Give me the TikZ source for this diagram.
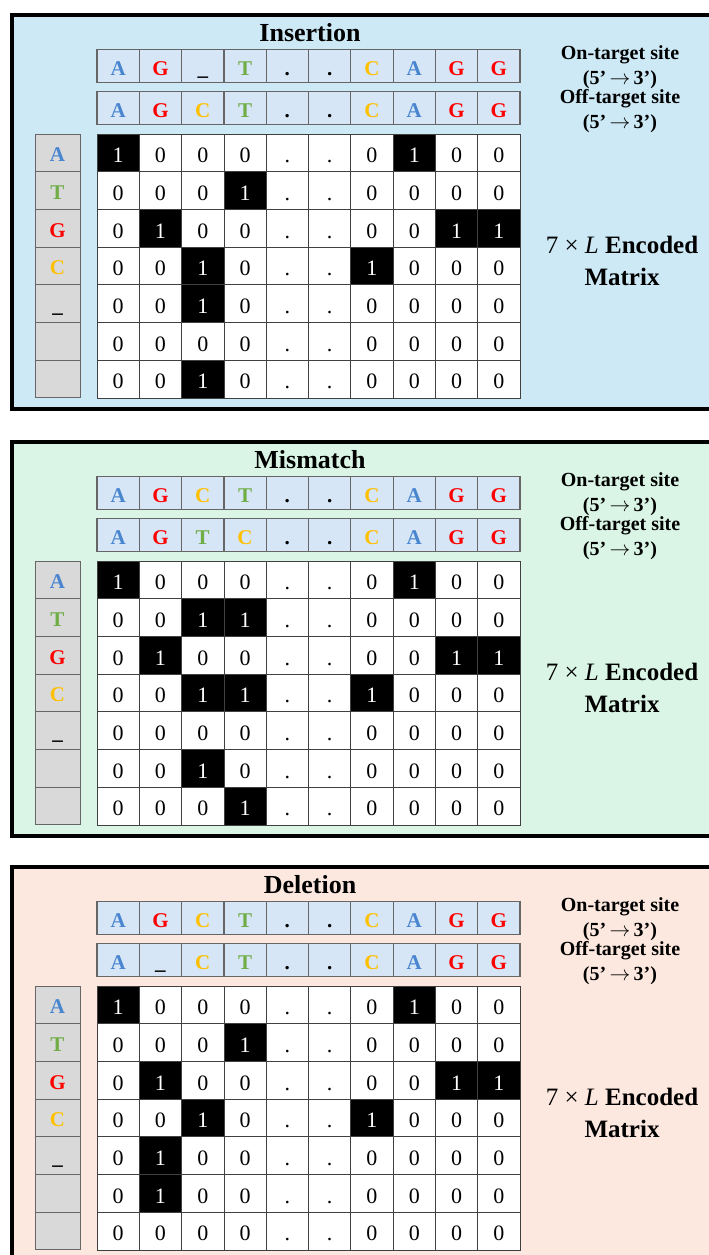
\documentclass[tikz,border=0pt]{standalone}
\usepackage{fontspec}
\setmainfont{Liberation Serif}
\usetikzlibrary{positioning}
\definecolor{insbg}{HTML}{CCE9F5}
\definecolor{misbg}{HTML}{DAF5E6}
\definecolor{delbg}{HTML}{FDE8E0}
\definecolor{seqfill}{HTML}{D6E6F6}
\definecolor{keyfill}{HTML}{D9D9D9}
\definecolor{baseA}{HTML}{4A86D0}
\definecolor{baseG}{HTML}{FF0000}
\definecolor{baseC}{HTML}{FFC000}
\definecolor{baseT}{HTML}{70AD47}

\begin{document}
\begin{tikzpicture}[x=1pt, y=-1pt,
    panel/.style={draw=black, line width=3.5pt},
    title/.style={font=\fontsize{26}{26}\selectfont\bfseries},
    seqcell/.style={draw=black!60, line width=1.2pt, fill=seqfill, minimum width=42.3pt, minimum height=33pt,
        inner sep=0pt, text height=19pt, text depth=0pt, font=\fontsize{21}{21}\selectfont\bfseries},
    keycell/.style={draw=black!60, line width=1pt, fill=keyfill, minimum width=45pt, minimum height=37.7pt,
        inner sep=0pt, text height=17.7pt, text depth=0pt, font=\fontsize{21}{21}\selectfont\bfseries},
    cell/.style={draw=black!75, line width=0.8pt, fill=white, minimum width=42.3pt, minimum height=37.7pt,
        inner sep=0pt, text height=19.7pt, text depth=0pt, font=\fontsize{22}{22}\selectfont},
    side/.style={align=center, font=\fontsize{20}{25}\selectfont\bfseries},
    enc/.style={align=center, font=\fontsize{25}{32}\selectfont},
    bA/.style={text=baseA, node contents=A},
    bG/.style={text=baseG, node contents=G},
    bC/.style={text=baseC, node contents=C},
    bT/.style={text=baseT, node contents=T},
    bD/.style={node contents=.},
    bU/.style={node contents=\_},
    bE/.style={node contents={}},
    v0/.style={node contents=0},
    v1/.style={fill=black, text=white, node contents=1},
    vd/.style={node contents=.}
]
\path[use as bounding box, clip] (0,0) rectangle (709,1255);

% --- Insertion ---
\begin{scope}[shift={(0,13)}]
\draw[panel, fill=insbg] (12,2) rectangle (720,396);
\node[title] (ins-title) at (310,20) {Insertion};
\foreach \b [count=\c] in {A,G,U,T,D,D,C,A,G,G}
    \node (ins-on-\c) at ({75.85+42.3*\c},53) [seqcell, b\b];
\foreach \b [count=\c] in {A,G,C,T,D,D,C,A,G,G}
    \node (ins-off-\c) at ({75.85+42.3*\c},95) [seqcell, b\b];
\foreach \b [count=\r] in {A,T,G,C,U,E,E}
    \node (ins-key-\r) at (57.5,{121+37.7*(\r-0.5)}) [keycell, b\b];
\foreach \row [count=\r] in {{1,0,0,0,d,d,0,1,0,0},{0,0,0,1,d,d,0,0,0,0},{0,1,0,0,d,d,0,0,1,1},
        {0,0,1,0,d,d,1,0,0,0},{0,0,1,0,d,d,0,0,0,0},{0,0,0,0,d,d,0,0,0,0},{0,0,1,0,d,d,0,0,0,0}}
    \foreach \v [count=\c] in \row
        \node (ins-\r-\c) at ({75.85+42.3*\c},{121+37.7*(\r-0.5)}) [cell, v\v];
\node[side] (ins-on) at (620,54) {On-target site\\(5’\,{\mdseries$\rightarrow$}\,3’)};
\node[side] (ins-off) at (620,98) {Off-target site\\(5’\,{\mdseries$\rightarrow$}\,3’)};
\node[enc] (ins-enc) at (622,248) {7 × \textit{L} \textbf{Encoded}\\\textbf{Matrix}};
\end{scope}

% --- Mismatch ---
\begin{scope}[shift={(0,440)}]
\draw[panel, fill=misbg] (12,2) rectangle (720,396);
\node[title] (mis-title) at (310,20) {Mismatch};
\foreach \b [count=\c] in {A,G,C,T,D,D,C,A,G,G}
    \node (mis-on-\c) at ({75.85+42.3*\c},53) [seqcell, b\b];
\foreach \b [count=\c] in {A,G,T,C,D,D,C,A,G,G}
    \node (mis-off-\c) at ({75.85+42.3*\c},95) [seqcell, b\b];
\foreach \b [count=\r] in {A,T,G,C,U,E,E}
    \node (mis-key-\r) at (57.5,{121+37.7*(\r-0.5)}) [keycell, b\b];
\foreach \row [count=\r] in {{1,0,0,0,d,d,0,1,0,0},{0,0,1,1,d,d,0,0,0,0},{0,1,0,0,d,d,0,0,1,1},
        {0,0,1,1,d,d,1,0,0,0},{0,0,0,0,d,d,0,0,0,0},{0,0,1,0,d,d,0,0,0,0},{0,0,0,1,d,d,0,0,0,0}}
    \foreach \v [count=\c] in \row
        \node (mis-\r-\c) at ({75.85+42.3*\c},{121+37.7*(\r-0.5)}) [cell, v\v];
\node[side] (mis-on) at (620,54) {On-target site\\(5’\,{\mdseries$\rightarrow$}\,3’)};
\node[side] (mis-off) at (620,98) {Off-target site\\(5’\,{\mdseries$\rightarrow$}\,3’)};
\node[enc] (mis-enc) at (622,248) {7 × \textit{L} \textbf{Encoded}\\\textbf{Matrix}};
\end{scope}

% --- Deletion ---
\begin{scope}[shift={(0,865)}]
\draw[panel, fill=delbg] (12,2) rectangle (720,396);
\node[title] (del-title) at (310,20) {Deletion};
\foreach \b [count=\c] in {A,G,C,T,D,D,C,A,G,G}
    \node (del-on-\c) at ({75.85+42.3*\c},53) [seqcell, b\b];
\foreach \b [count=\c] in {A,U,C,T,D,D,C,A,G,G}
    \node (del-off-\c) at ({75.85+42.3*\c},95) [seqcell, b\b];
\foreach \b [count=\r] in {A,T,G,C,U,E,E}
    \node (del-key-\r) at (57.5,{121+37.7*(\r-0.5)}) [keycell, b\b];
\foreach \row [count=\r] in {{1,0,0,0,d,d,0,1,0,0},{0,0,0,1,d,d,0,0,0,0},{0,1,0,0,d,d,0,0,1,1},
        {0,0,1,0,d,d,1,0,0,0},{0,1,0,0,d,d,0,0,0,0},{0,1,0,0,d,d,0,0,0,0},{0,0,0,0,d,d,0,0,0,0}}
    \foreach \v [count=\c] in \row
        \node (del-\r-\c) at ({75.85+42.3*\c},{121+37.7*(\r-0.5)}) [cell, v\v];
\node[side] (del-on) at (620,54) {On-target site\\(5’\,{\mdseries$\rightarrow$}\,3’)};
\node[side] (del-off) at (620,98) {Off-target site\\(5’\,{\mdseries$\rightarrow$}\,3’)};
\node[enc] (del-enc) at (622,248) {7 × \textit{L} \textbf{Encoded}\\\textbf{Matrix}};
\end{scope}

\end{tikzpicture}
\end{document}
